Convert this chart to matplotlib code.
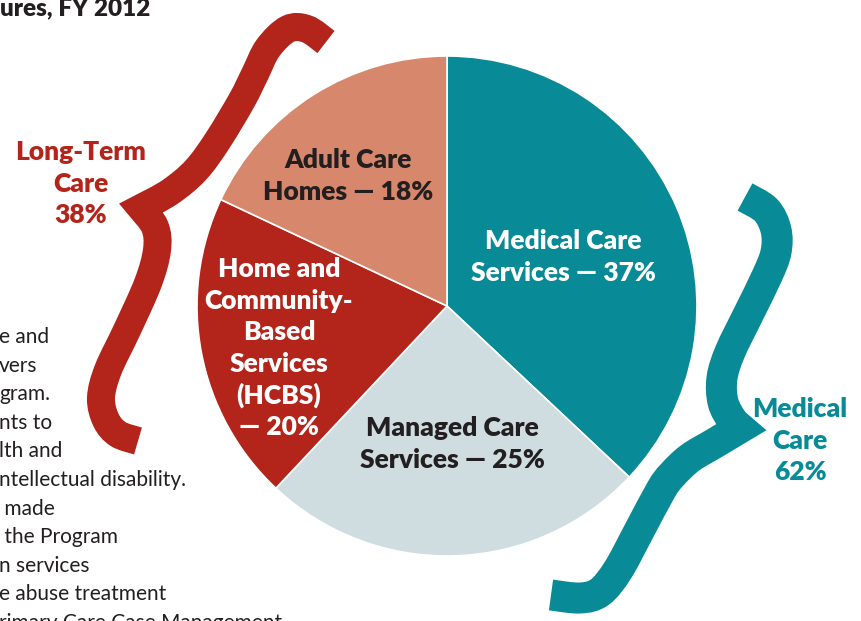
import numpy as np
import matplotlib
matplotlib.use("Agg")
import matplotlib.pyplot as plt
from matplotlib.path import Path
from matplotlib.patches import PathPatch

# ---- data ----
categories = ["Medical Care Services", "Managed Care Services",
              "Home and Community-Based Services (HCBS)", "Adult Care Homes"]
shares = [37, 25, 20, 18]
colors = ["#088A97", "#CFDDE0", "#B3241A", "#D6876C"]
slice_labels = [["Medical Care", "Services \u2014 37%"],
                ["Managed Care", "Services \u2014 25%"],
                ["Home and", "Community-", "Based", "Services", "(HCBS)", "\u2014 20%"],
                ["Adult Care", "Homes \u2014 18%"]]
label_colors = ["white", "#231F20", "white", "#231F20"]
group_labels = [["Long-Term", "Care", "38%"], ["Medical", "Care", "62%"]]
group_colors = ["#B3241A", "#088A97"]
title_text = "ures, FY 2012"
body_lines = ["e and", "vers", "gram.", "nts to", "lth and",
              "ntellectual disability.", " made", " the Program",
              "n services", "e abuse treatment", "rimary Care Case Management"]

W, H = 861, 621
fig = plt.figure(figsize=(W / 100, H / 100), dpi=100)
fig.patch.set_facecolor("white")

# pie axes: centre (447,306), radius 250 px
cx, cy, r = 447, 306, 250
pax = fig.add_axes([(cx - r) / W, 1 - (cy + r) / H, 2 * r / W, 2 * r / H])
pax.pie(shares, colors=colors, startangle=90, counterclock=False, radius=1,
        wedgeprops=dict(edgecolor="white", linewidth=1.2))
pax.set_xlim(-1, 1)
pax.set_ylim(-1, 1)
pax.set_aspect("equal")
pax.axis("off")

# overlay in pixel coordinates
ax = fig.add_axes([0, 0, 1, 1])
ax.set_xlim(0, W)
ax.set_ylim(H, 0)
ax.axis("off")

FONT = "Lato"
WEIGHT = "heavy"


def smooth(points):
    pts = np.array(points, dtype=float)
    ext = np.vstack([pts[0], pts, pts[-1]])
    verts = [tuple(pts[0])]
    codes = [Path.MOVETO]
    for i in range(1, len(ext) - 2):
        p0, p1, p2, p3 = ext[i - 1], ext[i], ext[i + 1], ext[i + 2]
        c1 = p1 + (p2 - p0) / 6
        c2 = p2 - (p3 - p1) / 6
        verts += [tuple(c1), tuple(c2), tuple(p2)]
        codes += [Path.CURVE4] * 3
    return verts, codes


def brace(upper, lower, color, width_px):
    v1, c1 = smooth(upper)
    v2, c2 = smooth(lower)
    verts = v1 + v2[1:]
    codes = c1 + c2[1:]
    patch = PathPatch(Path(verts, codes), facecolor="none", edgecolor=color,
                      linewidth=width_px * 0.72, capstyle="butt",
                      joinstyle="miter")
    ax.add_patch(patch)


brace([(326, 42), (307, 29), (288, 29), (268, 48), (255, 74), (242, 100),
       (218, 140), (196, 170), (170, 192), (141, 208)],
      [(141, 208), (155, 227), (157, 250), (148, 283), (127, 330),
       (108, 370), (101, 398), (106, 420), (118, 434), (138, 441)],
      group_colors[0], 28)
brace([(745, 197), (766, 210), (776, 230), (776, 252), (767, 276),
       (748, 315), (730, 352), (722, 378), (723, 402), (732, 420), (740, 428)],
      [(740, 428), (715, 443), (690, 458), (672, 475), (661, 490),
       (638, 533), (618, 570), (600, 592), (580, 598), (551, 595)],
      group_colors[1], 31)

# texts
fs = 19
LS = 31.6
ax.text(0, 15.5, title_text, fontsize=17.5, fontweight=WEIGHT, family=FONT,
        color="#231F20", ha="left", va="baseline")

for i, line in enumerate(body_lines):
    ax.text(-1, 343 + i * 28.6, line, fontsize=15, family=FONT,
            color="#231F20", ha="left", va="baseline")

label_pos = [(563, 249), (452, 436), (279, 277), (348, 168)]
for lines, (x, y), c in zip(slice_labels, label_pos, label_colors):
    for j, line in enumerate(lines):
        ax.text(x, y + j * LS, line, fontsize=fs, fontweight=WEIGHT,
                family=FONT, color=c, ha="center", va="baseline")

group_pos = [(81, 160), (800, 417)]
for lines, (x, y), c in zip(group_labels, group_pos, group_colors):
    for j, line in enumerate(lines):
        ax.text(x, y + j * LS, line, fontsize=fs, fontweight=WEIGHT,
                family=FONT, color=c, ha="center", va="baseline")

fig.savefig("out.png", dpi=100)
